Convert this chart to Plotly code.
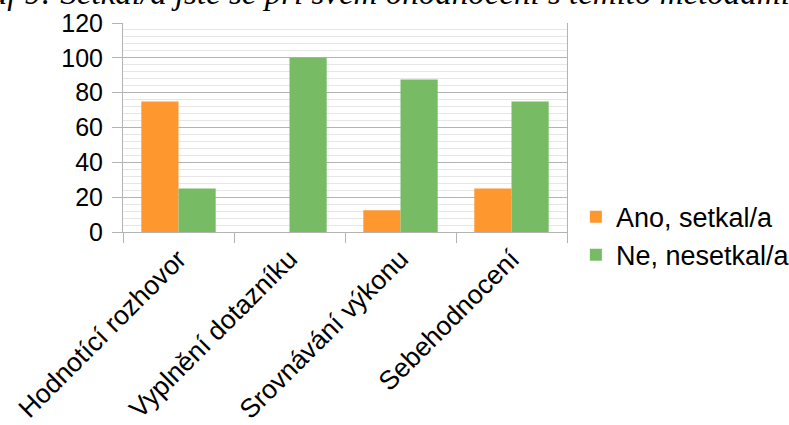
import plotly.graph_objects as go

# Survey answers (% of respondents) per appraisal method
categories = ["Hodnotící rozhovor", "Vyplnění dotazníku", "Srovnávání výkonu", "Sebehodnocení"]
ano_values = [75, 0, 12.5, 25]
ne_values = [25, 100, 87.5, 75]
series_names = ["Ano, setkal/a", "Ne, nesetkal/a"]
title_text = "Graf 9: Setkal/a jste se při svém ohodnocení s těmito metodami?"

ORANGE = "#FF972F"
GREEN = "#77BC65"
AXIS_GRAY = "#b3b3b3"
MINOR_GRAY = "#e6e6e6"
FONT = "Liberation Sans, Arial, sans-serif"

fig = go.Figure()
fig.add_trace(go.Bar(x=categories, y=ano_values, name=series_names[0],
                     marker=dict(color=ORANGE, line=dict(width=0))))
fig.add_trace(go.Bar(x=categories, y=ne_values, name=series_names[1],
                     marker=dict(color=GREEN, line=dict(width=0))))

fig.update_layout(
    width=789, height=425,
    margin=dict(l=123, r=222, t=23, b=193, autoexpand=False),
    paper_bgcolor="white", plot_bgcolor="white",
    barmode="group", bargap=0.33, bargroupgap=0,
    font=dict(family=FONT, size=26, color="black"),
    showlegend=True,
    legend=dict(x=1.02, xanchor="left", y=-0.02, yanchor="middle",
                font=dict(size=27), bgcolor="rgba(0,0,0,0)",
                itemwidth=30, tracegroupgap=0),
    xaxis=dict(
        type="category", tickson="boundaries", ticks="outside", ticklen=10,
        tickcolor=AXIS_GRAY, tickwidth=1, showgrid=False, automargin=False,
        showline=True, linecolor=AXIS_GRAY, linewidth=1,
        tickangle=-45, tickfont=dict(size=26.5),
    ),
    yaxis=dict(
        range=[0, 120], dtick=20, tick0=0, automargin=False,
        ticks="outside", ticklen=10, tickcolor=AXIS_GRAY, tickwidth=1,
        showgrid=True, gridcolor=AXIS_GRAY, gridwidth=1,
        showline=True, mirror=True, linecolor=AXIS_GRAY, linewidth=1,
        zeroline=False, tickfont=dict(size=25), ticklabelstandoff=4,
        minor=dict(dtick=4, showgrid=True, gridcolor=MINOR_GRAY, gridwidth=1),
    ),
)

# Figure caption, partly running off the top of the page
fig.add_annotation(
    text="<i>" + title_text + "</i>",
    xref="paper", yref="paper", x=-0.385, y=1.145, xanchor="left", yanchor="middle",
    showarrow=False,
    font=dict(family="Liberation Serif, Times New Roman, serif", size=33, color="black"),
)

fig.write_html("out.html")
